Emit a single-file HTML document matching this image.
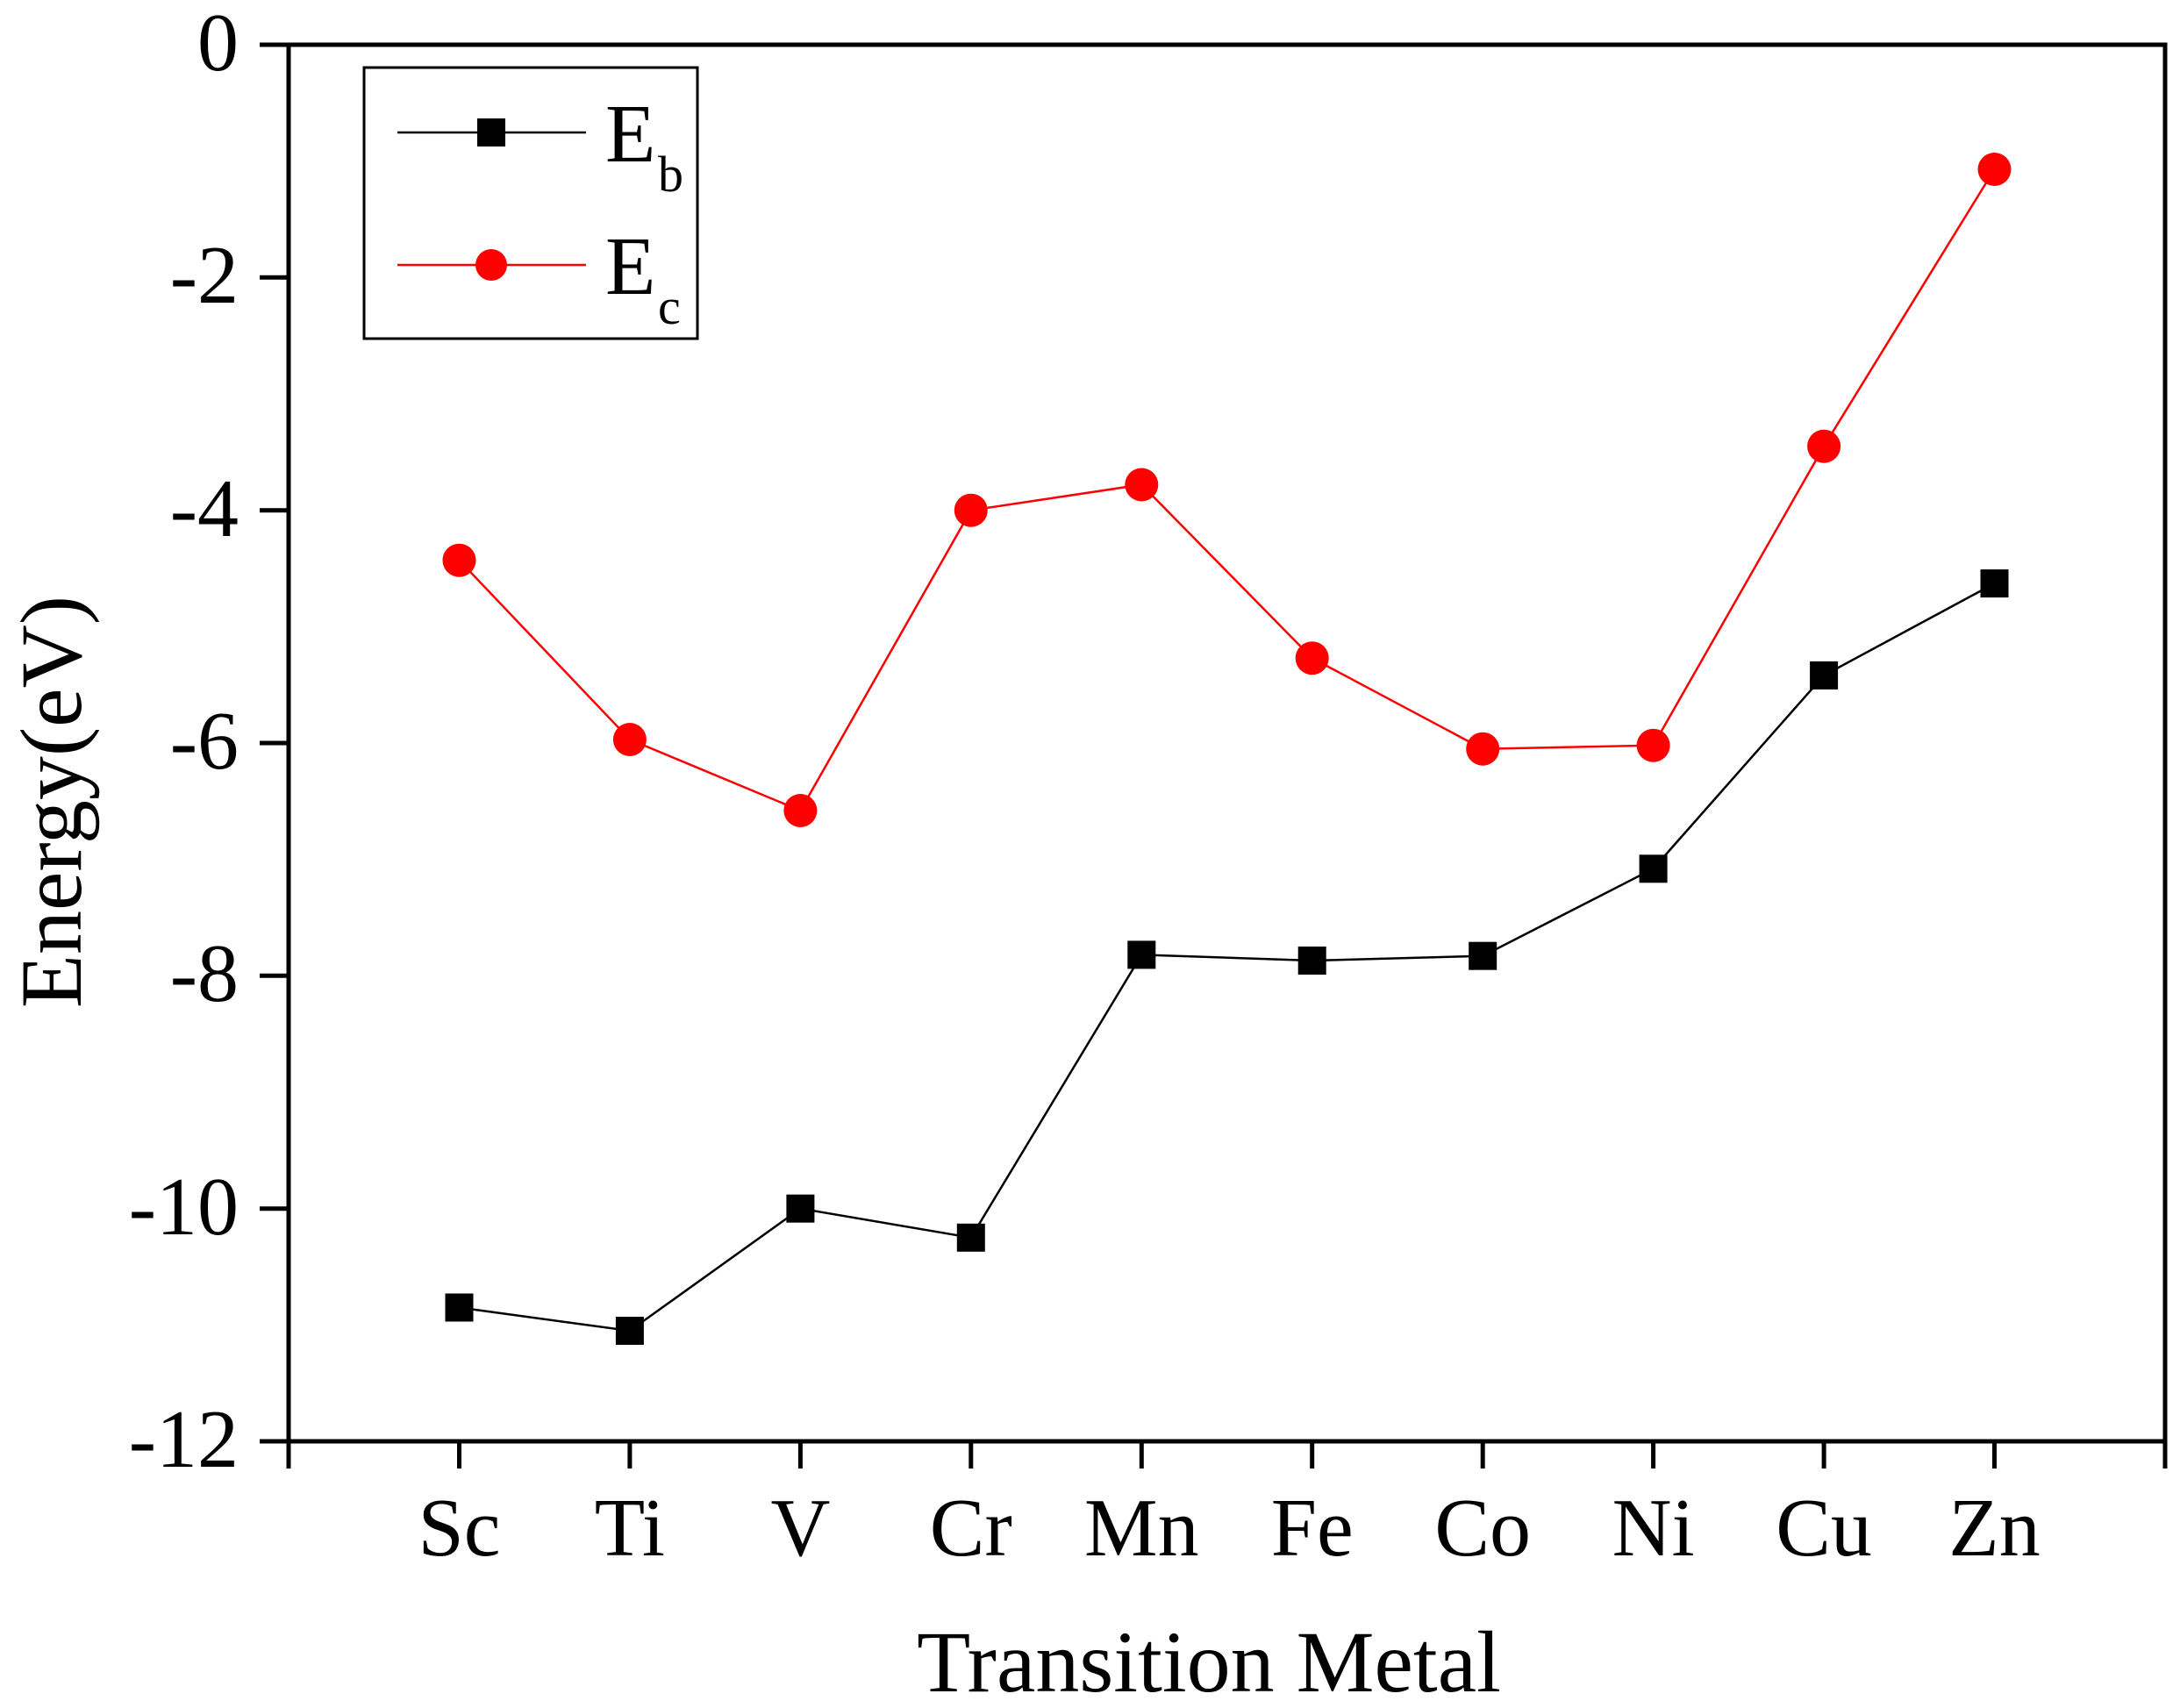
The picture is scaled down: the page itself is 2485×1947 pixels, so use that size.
<!DOCTYPE html>
<html><head><meta charset="utf-8"><style>
html,body{margin:0;padding:0;background:#fff}
svg{display:block}
text{font-family:"Liberation Serif",serif;fill:#000}
</style></head><body>
<svg width="2485" height="1947" viewBox="0 0 2485 1947" xmlns="http://www.w3.org/2000/svg">
<g stroke="#000" stroke-width="5" fill="none">
<rect x="329" y="51" width="2139" height="1592"/>
<line x1="296" y1="51" x2="329" y2="51"/>
<line x1="296" y1="316.3" x2="329" y2="316.3"/>
<line x1="296" y1="581.7" x2="329" y2="581.7"/>
<line x1="296" y1="847" x2="329" y2="847"/>
<line x1="296" y1="1112.3" x2="329" y2="1112.3"/>
<line x1="296" y1="1377.7" x2="329" y2="1377.7"/>
<line x1="296" y1="1643" x2="329" y2="1643"/>
<line x1="329" y1="1643" x2="329" y2="1674"/>
<line x1="523.5" y1="1643" x2="523.5" y2="1674"/>
<line x1="717.9" y1="1643" x2="717.9" y2="1674"/>
<line x1="912.4" y1="1643" x2="912.4" y2="1674"/>
<line x1="1106.8" y1="1643" x2="1106.8" y2="1674"/>
<line x1="1301.3" y1="1643" x2="1301.3" y2="1674"/>
<line x1="1495.7" y1="1643" x2="1495.7" y2="1674"/>
<line x1="1690.2" y1="1643" x2="1690.2" y2="1674"/>
<line x1="1884.6" y1="1643" x2="1884.6" y2="1674"/>
<line x1="2079.1" y1="1643" x2="2079.1" y2="1674"/>
<line x1="2273.5" y1="1643" x2="2273.5" y2="1674"/>
<line x1="2468" y1="1643" x2="2468" y2="1674"/>
</g>
<g font-size="94" text-anchor="end">
<text x="272" y="80">0</text>
<text x="272" y="345">-2</text>
<text x="272" y="611">-4</text>
<text x="272" y="876">-6</text>
<text x="272" y="1141">-8</text>
<text x="272" y="1407">-10</text>
<text x="272" y="1672">-12</text>
</g>
<g font-size="94" text-anchor="middle">
<text x="523.5" y="1773">Sc</text>
<text x="717.9" y="1773">Ti</text>
<text x="912.4" y="1773">V</text>
<text x="1106.8" y="1773">Cr</text>
<text x="1301.3" y="1773">Mn</text>
<text x="1495.7" y="1773">Fe</text>
<text x="1690.2" y="1773">Co</text>
<text x="1884.6" y="1773">Ni</text>
<text x="2079.1" y="1773">Cu</text>
<text x="2273.5" y="1773">Zn</text>
<text x="1378" y="1928" font-size="100">Transition Metal</text>
<text transform="translate(92,914) rotate(-90)" font-size="100">Energy(eV)</text>
</g>
<polyline fill="none" stroke="#000" stroke-width="2.5" points="523.5,1490.5 717.9,1517 912.4,1377.7 1106.8,1410.8 1301.3,1088.4 1495.7,1095 1690.2,1089.7 1884.6,990.3 2079.1,769.9 2273.5,665.1"/>
<g fill="#000">
<rect x="507.5" y="1474.5" width="32" height="32"/>
<rect x="701.9" y="1501" width="32" height="32"/>
<rect x="896.4" y="1361.7" width="32" height="32"/>
<rect x="1090.8" y="1394.8" width="32" height="32"/>
<rect x="1285.3" y="1072.4" width="32" height="32"/>
<rect x="1479.7" y="1079" width="32" height="32"/>
<rect x="1674.2" y="1073.7" width="32" height="32"/>
<rect x="1868.6" y="974.3" width="32" height="32"/>
<rect x="2063.1" y="753.9" width="32" height="32"/>
<rect x="2257.5" y="649.1" width="32" height="32"/>
</g>
<polyline fill="none" stroke="#f00" stroke-width="2.5" points="523.5,638.7 717.9,843 912.4,924 1106.8,581.7 1301.3,552.5 1495.7,750.2 1690.2,853.7 1884.6,849.7 2079.1,508.7 2273.5,193"/>
<g fill="#f00">
<circle cx="523.5" cy="638.7" r="19"/>
<circle cx="717.9" cy="843" r="19"/>
<circle cx="912.4" cy="924" r="19"/>
<circle cx="1106.8" cy="581.7" r="19"/>
<circle cx="1301.3" cy="552.5" r="19"/>
<circle cx="1495.7" cy="750.2" r="19"/>
<circle cx="1690.2" cy="853.7" r="19"/>
<circle cx="1884.6" cy="849.7" r="19"/>
<circle cx="2079.1" cy="508.7" r="19"/>
<circle cx="2273.5" cy="193" r="19"/>
</g>
<rect x="415" y="77" width="380" height="309" fill="none" stroke="#000" stroke-width="3"/>
<line x1="453" y1="151" x2="668" y2="151" stroke="#000" stroke-width="2.5"/>
<rect x="544" y="135" width="32" height="32" fill="#000"/>
<line x1="453" y1="302" x2="668" y2="302" stroke="#f00" stroke-width="2.5"/>
<circle cx="560" cy="302" r="18" fill="#f00"/>
<text x="690" y="184" font-size="94">E</text>
<text x="750" y="218" font-size="58">b</text>
<text x="690" y="335" font-size="94">E</text>
<text x="750" y="369" font-size="58">c</text>
</svg>
</body></html>
